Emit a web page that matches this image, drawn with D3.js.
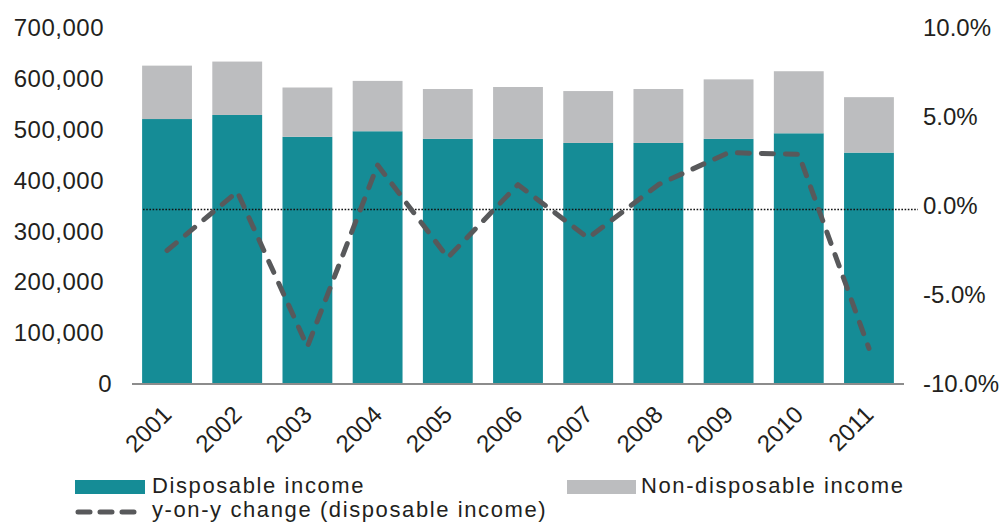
<!DOCTYPE html>
<html>
<head>
<meta charset="utf-8">
<script src="https://cdn.jsdelivr.net/npm/d3@7/dist/d3.min.js"></script>
<style>
  body { margin: 0; background: #fff; }
  svg text { font-family: "Liberation Sans", Arial, Helvetica, sans-serif; fill: #231f20; }
</style>
</head>
<body>
<div id="chart"></div>
<script>
// data
const years = ["2001", "2002", "2003", "2004", "2005", "2006", "2007", "2008", "2009", "2010", "2011"];
const disposable = [521000, 529000, 486000, 497000, 482000, 482000, 474000, 474000, 482000, 493000, 455000];
const nonDisposable = [105000, 105000, 97000, 99000, 98000, 102000, 102000, 106000, 117000, 122000, 109000];
const yoyChange = [-2.5, 0.8, -7.9, 2.3, -2.9, 1.2, -1.8, 1.2, 3.0, 2.9, -8.0];
const leftTicks = [0, 100000, 200000, 300000, 400000, 500000, 600000, 700000];
const rightTicks = [-10, -5, 0, 5, 10];
const refLine = -0.2; // dotted line sits just under the 0.0% label

const width = 1004, height = 522;
const teal = "#158c96", grey = "#bcbdbf", lineGrey = "#58595b";

const svg = d3.select("#chart").append("svg")
    .attr("width", width)
    .attr("height", height);

const x = d3.scaleBand()
    .domain(years)
    .range([132, 904])
    .paddingInner(0.29)
    .paddingOuter(0.144);

const yL = d3.scaleLinear().domain([0, 700000]).range([384, 28]);
const yR = d3.scaleLinear().domain([-10, 10]).range([384, 28]);

const rows = years.map((yr, i) => ({ yr, d: disposable[i], n: nonDisposable[i], c: yoyChange[i] }));

// stacked bars
const bars = svg.append("g");
bars.selectAll(".disp").data(rows).join("rect")
    .attr("x", d => x(d.yr))
    .attr("width", x.bandwidth())
    .attr("y", d => yL(d.d))
    .attr("height", d => yL(0) - yL(d.d))
    .attr("fill", teal);

bars.selectAll(".nondisp").data(rows).join("rect")
    .attr("x", d => x(d.yr))
    .attr("width", x.bandwidth())
    .attr("y", d => yL(d.d + d.n))
    .attr("height", d => yL(d.d) - yL(d.d + d.n))
    .attr("fill", grey);

// baseline
svg.append("line")
    .attr("x1", 132).attr("x2", 904)
    .attr("y1", yL(0)).attr("y2", yL(0))
    .attr("stroke", "#8c8c8c")
    .attr("stroke-width", 2);

// dotted reference line
svg.append("line")
    .attr("x1", 143).attr("x2", 918)
    .attr("y1", yR(refLine)).attr("y2", yR(refLine))
    .attr("stroke", "#111")
    .attr("stroke-width", 1.6)
    .attr("stroke-dasharray", "1.6,1.6");

// y-on-y line
const line = d3.line()
    .x(d => x(d.yr) + x.bandwidth() / 2)
    .y(d => yR(d.c));

svg.append("path")
    .datum(rows)
    .attr("d", line)
    .attr("fill", "none")
    .attr("stroke", lineGrey)
    .attr("stroke-width", 5)
    .attr("stroke-linecap", "round")
    .attr("stroke-linejoin", "round")
    .attr("stroke-dasharray", "12,12");

// left axis
const left = svg.append("g")
    .attr("transform", "translate(104,0)")
    .call(d3.axisLeft(yL).tickValues(leftTicks).tickSize(0).tickPadding(0).tickFormat(d3.format(",")));
left.select(".domain").remove();
left.selectAll("text")
    .attr("font-size", 24)
    .attr("letter-spacing", 0.5)
    .attr("dx", d => d === 0 ? 8 : 0);

// right axis
const right = svg.append("g")
    .attr("transform", "translate(923,0)")
    .call(d3.axisRight(yR).tickValues(rightTicks).tickSize(0).tickPadding(0).tickFormat(d => d.toFixed(1) + "%"));
right.select(".domain").remove();
right.selectAll("text").attr("font-size", 24);

// year labels
const bottom = svg.append("g")
    .attr("transform", `translate(0,${yL(0)})`)
    .call(d3.axisBottom(x).tickSize(0).tickPadding(0));
bottom.select(".domain").remove();
bottom.selectAll("text")
    .attr("font-size", 24)
    .attr("x", 0).attr("y", 0).attr("dy", 0)
    .attr("text-anchor", "end")
    .attr("transform", "translate(6,32) rotate(-45)");

// legend
const lg = svg.append("g");
const legendText = (tx, ty, label) => lg.append("text")
    .attr("x", tx).attr("y", ty)
    .attr("font-size", 22)
    .attr("letter-spacing", 1.6)
    .text(label);

lg.append("rect").attr("x", 75).attr("y", 480).attr("width", 70).attr("height", 14).attr("fill", teal);
legendText(152, 493, "Disposable income");

lg.append("rect").attr("x", 567).attr("y", 480).attr("width", 69).attr("height", 14).attr("fill", grey);
legendText(641, 493, "Non-disposable income");

lg.append("line")
    .attr("x1", 78).attr("x2", 136).attr("y1", 512).attr("y2", 512)
    .attr("stroke", lineGrey).attr("stroke-width", 5)
    .attr("stroke-linecap", "round").attr("stroke-dasharray", "12,10");
legendText(152, 517, "y-on-y change (disposable income)");
</script>
</body>
</html>
